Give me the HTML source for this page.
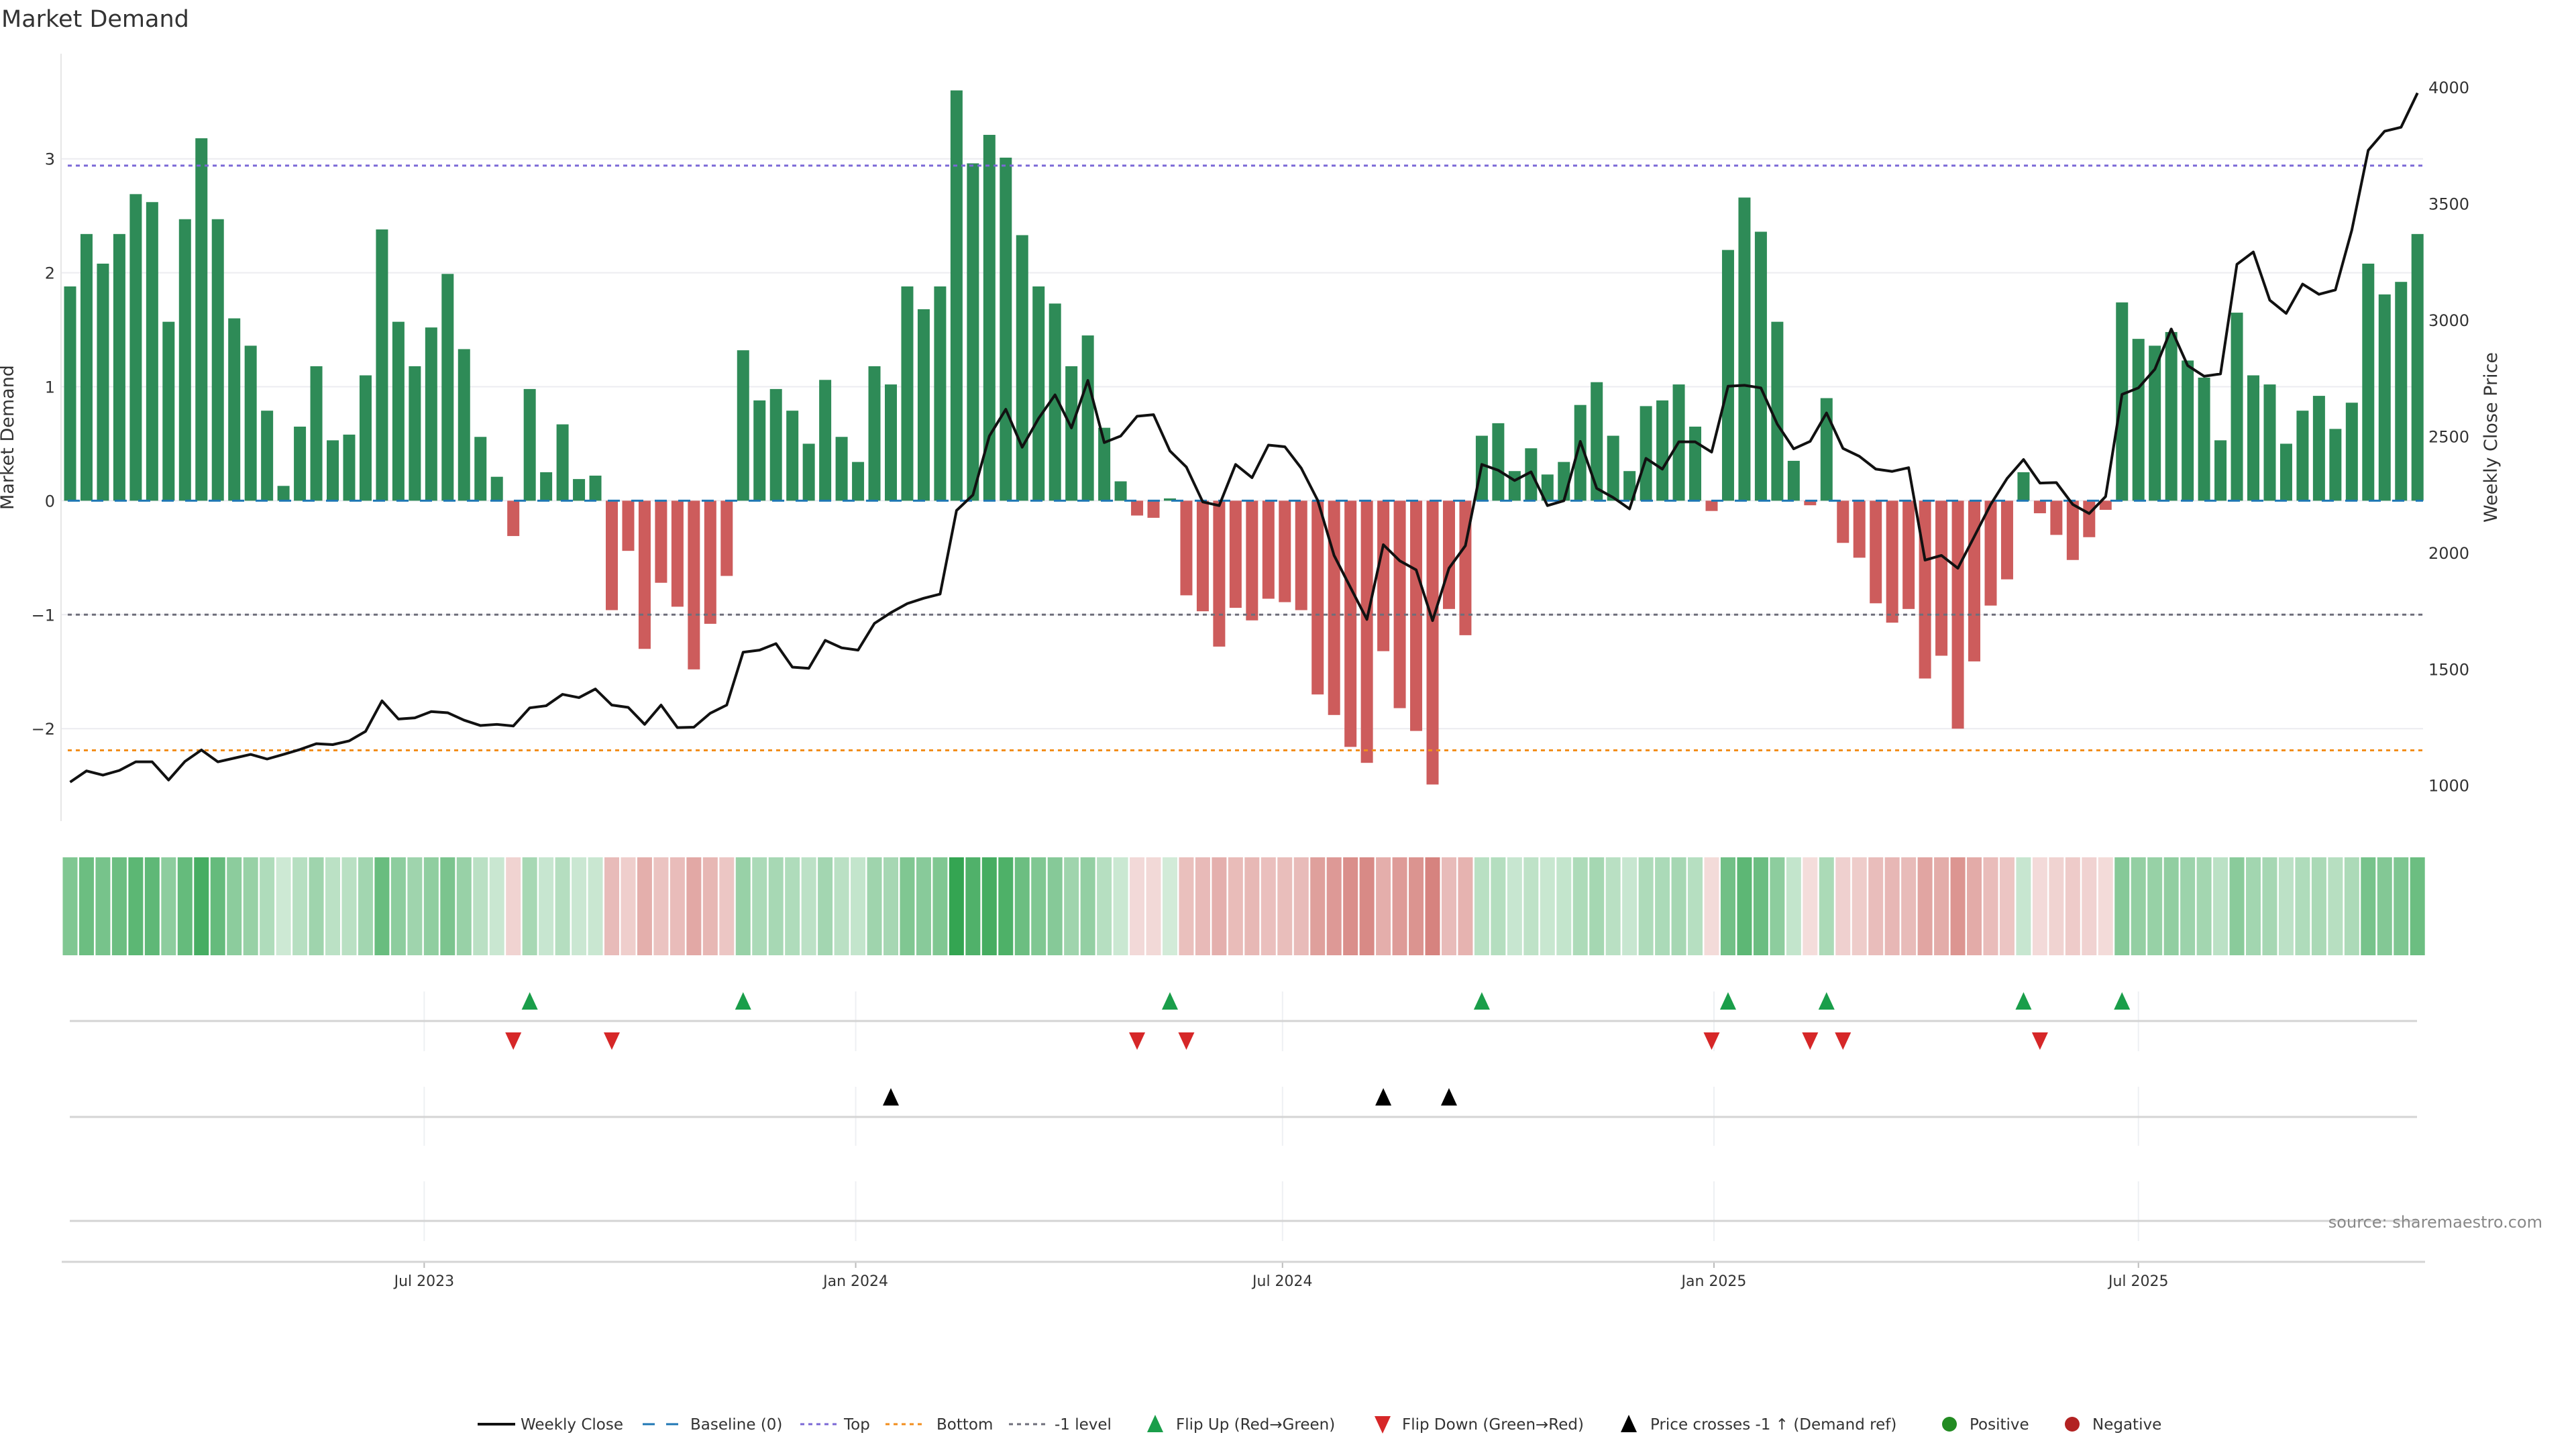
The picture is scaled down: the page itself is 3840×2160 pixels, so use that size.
<!DOCTYPE html>
<html><head><meta charset="utf-8"><title>Market Demand</title>
<style>html,body{margin:0;padding:0;background:#fff;}svg{display:block;font-family:"DejaVu Sans","Liberation Sans",sans-serif;}</style>
</head><body>
<svg id="chart" width="3840" height="2160" viewBox="0 0 3840 2160" xmlns="http://www.w3.org/2000/svg">
<rect width="3840" height="2160" fill="#fff"/>
<text x="2" y="40" font-size="35" fill="#333">Market Demand</text>
<g id="grid"></g><g id="main"></g><g id="lower"></g>
<text x="0" y="0" transform="translate(20,652) rotate(-90)" text-anchor="middle" font-size="27" fill="#333">Market Demand</text>
<text x="0" y="0" transform="translate(3722,652) rotate(-90)" text-anchor="middle" font-size="27" fill="#333">Weekly Close Price</text>
<text x="3790" y="1830" text-anchor="end" font-size="24" fill="#888">source: sharemaestro.com</text>
<g id="legend"></g>
</svg>
<script>
const demand=[1.88,2.34,2.08,2.34,2.69,2.62,1.57,2.47,3.18,2.47,1.60,1.36,0.79,0.13,0.65,1.18,0.53,0.58,1.10,2.38,1.57,1.18,1.52,1.99,1.33,0.56,0.21,-0.31,0.98,0.25,0.67,0.19,0.22,-0.96,-0.44,-1.30,-0.72,-0.93,-1.48,-1.08,-0.66,1.32,0.88,0.98,0.79,0.50,1.06,0.56,0.34,1.18,
1.02,1.88,1.68,1.88,3.60,2.96,3.21,3.01,2.33,1.88,1.73,1.18,1.45,0.64,0.17,-0.13,-0.15,0.02,-0.83,-0.97,-1.28,-0.94,-1.05,-0.86,-0.89,-0.96,-1.70,-1.88,-2.16,-2.30,-1.32,-1.82,-2.02,-2.49,-0.95,-1.18,0.57,0.68,0.26,0.46,0.23,0.34,0.84,1.04,0.57,0.26,0.83,0.88,1.02,0.65,-0.09,
2.20,2.66,2.36,1.57,0.35,-0.04,0.90,-0.37,-0.50,-0.90,-1.07,-0.95,-1.56,-1.36,-2.00,-1.41,-0.92,-0.69,0.25,-0.11,-0.30,-0.52,-0.32,-0.08,1.74,1.42,1.36,1.48,1.23,1.08,0.53,1.65,1.10,1.02,0.50,0.79,0.92,0.63,0.86,2.08,1.81,1.92,2.34];
const price=[1014,1062,1044,1064,1101,1101,1023,1103,1152,1101,1117,1133,1113,1133,1154,1179,1175,1191,1232,1363,1285,1290,1317,1312,1280,1257,1262,1255,1333,1342,1391,1377,1414,1345,1335,1262,1345,1248,1250,1310,1345,1572,1581,1609,1508,1503,1623,1591,1581,1696,
1742,1781,1804,1822,2181,2248,2501,2616,2453,2577,2678,2536,2740,2473,2501,2586,2593,2437,2368,2218,2202,2379,2322,2462,2455,2363,2225,1988,1850,1713,2034,1965,1926,1708,1933,2030,2379,2354,2310,2347,2202,2223,2478,2276,2237,2188,2405,2359,2476,2476,2432,
2715,2719,2708,2552,2446,2478,2600,2448,2414,2359,2349,2365,1968,1988,1933,2069,2207,2319,2400,2299,2301,2207,2168,2241,2680,2708,2788,2961,2804,2758,2768,3239,3292,3085,3028,3154,3110,3129,3386,3729,3811,3828,3975];
const demandTicks=[-2,-1,0,1,2,3];
const priceTicks=[1000,1500,2000,2500,3000,3500,4000];
const dateTicks=["2023-07-01","2024-01-01","2024-07-01","2025-01-01","2025-07-01"];
const dateTickLabels=["Jul 2023","Jan 2024","Jul 2024","Jan 2025","Jul 2025"];
const refLevels=[2.94,-1,-2.19];
const startDate="2023-01-31";

const NS="http://www.w3.org/2000/svg";
function mk(tag,attrs,parent){const e=document.createElementNS(NS,tag);for(const k in attrs)e.setAttribute(k,attrs[k]);parent.appendChild(e);return e;}
const X0=104.5, STEP=24.47, DAYPX=STEP/7;
const xIdx=i=>X0+i*STEP;
const xDate=d=>X0+((new Date(d)-new Date(startDate))/86400000)*DAYPX;
const yD=v=>746.4-v*169.9;
const yP=p=>1170.7-(p-1000)*0.3469;
const grid=document.getElementById('grid'),main=document.getElementById('main'),lower=document.getElementById('lower'),legend=document.getElementById('legend');
const L=91,R=3612;

demandTicks.forEach(t=>{
  const g=mk('line',{x1:L,x2:R,y1:yD(t),y2:yD(t),stroke:'#ececf0','stroke-width':2},grid);
  
  
  const tx=mk('text',{x:82,y:yD(t)+9,'text-anchor':'end','font-size':24,fill:'#333'},grid);
  tx.textContent=(t<0?'\u2212'+(-t):String(t));
  
  
});
priceTicks.forEach(t=>{
  const tx=mk('text',{x:3620,y:yP(t)+9,'font-size':24,fill:'#333'},grid);
  tx.textContent=String(t);
  
  
});
const ax=mk('line',{x1:L,x2:L,y1:80,y2:1224,stroke:'#e6e6e6','stroke-width':2},grid);



demand.forEach((v,i)=>{
  const y1=yD(Math.max(v,0)),y2=yD(Math.min(v,0));
  const b=mk('rect',{x:xIdx(i)-9,y:y1,width:18,height:Math.max(0.5,y2-y1),fill:v>=0?'#2e8b57':'#cd5c5c'},main);
  
  
});
const bl=mk('line',{x1:L+10,x2:R,y1:yD(0),y2:yD(0),stroke:'#1f77b4','stroke-width':3,'stroke-dasharray':'18 17'},main);


const refColors=['#7b68d6','#6e6e7a','#f28e1c'];
const refNames=['top-line','minus-one-level','bottom-line'];
refLevels.forEach((v,k)=>{
  const l=mk('line',{x1:L+10,x2:R,y1:yD(v),y2:yD(v),stroke:refColors[k],'stroke-width':3,'stroke-dasharray':'6 6'},main);
  
  
});
const pl=mk('polyline',{points:price.map((p,i)=>xIdx(i)+','+yP(p)).join(' '),fill:'none',stroke:'#111','stroke-width':4,'stroke-linejoin':'round'},main);



const gmax=Math.max(...demand),rmax=-Math.min(...demand);
demand.forEach((v,i)=>{
  let col;
  if(v>=0){const t=0.22+0.78*(v/gmax);col=`rgba(52,165,82,${t.toFixed(3)})`;}
  else{const t=0.2+0.55*(-v/rmax);col=`rgba(200,90,84,${t.toFixed(3)})`;}
  const c=mk('rect',{x:xIdx(i)-11,y:1278,width:22,height:146,fill:col},lower);
  
  
});
dateTicks.forEach((d,k)=>{
  const x=xDate(d);
  [[1478,1567],[1620,1708],[1761,1850]].forEach(r=>{
    const g=mk('line',{x1:x,x2:x,y1:r[0],y2:r[1],stroke:'#eef0f3','stroke-width':2},lower);
    
    
  });
  const tk=mk('line',{x1:x,x2:x,y1:1881,y2:1890,stroke:'#bbb','stroke-width':2},lower);
  
  
  const t=mk('text',{x:x,y:1917,'text-anchor':'middle','font-size':22,fill:'#333'},lower);
  t.textContent=dateTickLabels[k];
  
  
});
[1522,1665,1820].forEach(y=>{
  const l=mk('line',{x1:104,x2:3603,y1:y,y2:y,stroke:'#d4d4d4','stroke-width':3},lower);
  
  
});
const xa=mk('line',{x1:92,x2:3615,y1:1881,y2:1881,stroke:'#d4d4d4','stroke-width':3},lower);



function tri(x,y,up,fill,parent){
  const h=14,w=12;
  const pts=up?`${x},${y-h} ${x-w},${y+h-2} ${x+w},${y+h-2}`:`${x},${y+h} ${x-w},${y-h+2} ${x+w},${y-h+2}`;
  return mk('polygon',{points:pts,fill:fill},parent);
}
const ref1=refLevels[1];
for(let i=1;i<demand.length;i++){
  if(demand[i-1]<0&&demand[i]>=0){const t=tri(xIdx(i),1493,true,'#1a9e4a',lower);
    
    }
  if(demand[i-1]>=0&&demand[i]<0){const t=tri(xIdx(i),1551,false,'#d62728',lower);
    
    }
  if(yP(price[i-1])>yD(ref1)&&yP(price[i])<=yD(ref1)){const t=tri(xIdx(i),1636,true,'#000',lower);
    
    }
}

const LY=2123;
function ltext(x,s,name){const t=mk('text',{x:x,y:LY+8,'font-size':23,fill:'#333'},legend);t.textContent=s;
  
  }
function lline(x,col,dash,w,name){const l=mk('line',{x1:x,x2:x+56,y1:LY,y2:LY,stroke:col,'stroke-width':w,'stroke-dasharray':dash},legend);
  
  }
lline(712,'#111','none',4,'legend-weekly-close-swatch');ltext(776,'Weekly Close','legend-weekly-close');
lline(958,'#1f77b4','18 17',3,'legend-baseline-swatch');ltext(1029,'Baseline (0)','legend-baseline');
lline(1193,'#7b68d6','6 6',3,'legend-top-swatch');ltext(1258,'Top','legend-top');
lline(1320,'#f28e1c','6 6',3,'legend-bottom-swatch');ltext(1396,'Bottom','legend-bottom');
lline(1504,'#6e6e7a','6 6',3,'legend-minus-one-swatch');ltext(1572,'-1 level','legend-minus-one');
let lt=tri(1722,LY,true,'#1a9e4a',legend);


ltext(1753,'Flip Up (Red\u2192Green)','legend-flip-up');
lt=tri(2061,LY,false,'#d62728',legend);


ltext(2090,'Flip Down (Green\u2192Red)','legend-flip-down');
lt=tri(2428,LY,true,'#000',legend);


ltext(2460,'Price crosses -1 \u2191 (Demand ref)','legend-price-cross');
let lc=mk('circle',{cx:2906,cy:LY,r:11,fill:'#228b22'},legend);


ltext(2936,'Positive','legend-positive');
lc=mk('circle',{cx:3089,cy:LY,r:11,fill:'#b22222'},legend);


ltext(3119,'Negative','legend-negative');
</script>
</body></html>
